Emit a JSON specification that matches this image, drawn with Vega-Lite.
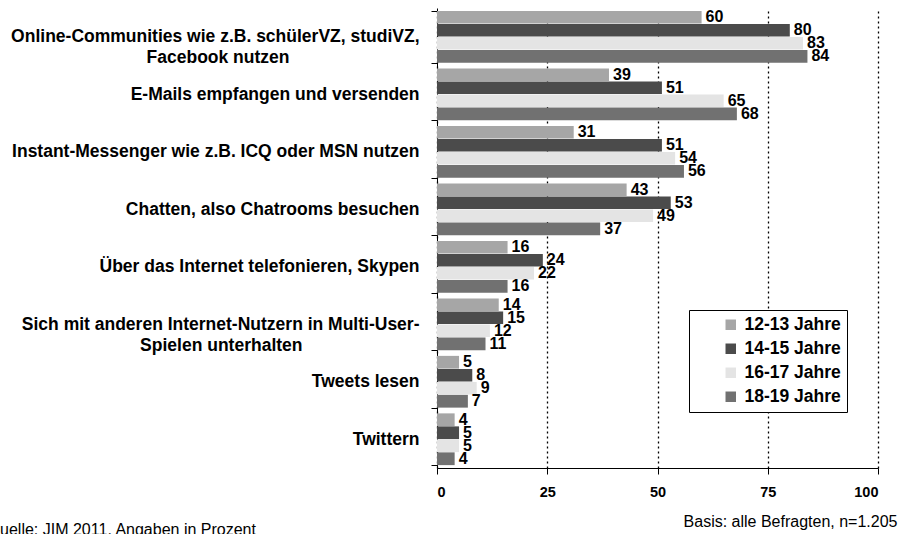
{
  "$schema": "https://vega.github.io/schema/vega-lite/v6.json",
  "width": 441,
  "height": 460,
  "autosize": "none",
  "padding": {"left": 437, "top": 8, "right": 22, "bottom": 66},
  "background": "white",
  "title": {
    "text": "Quelle: JIM 2011, Angaben in Prozent",
    "orient": "bottom",
    "anchor": "start",
    "frame": "bounds",
    "font": "Liberation Sans",
    "fontSize": 16,
    "fontWeight": "normal",
    "color": "black",
    "offset": -7,
    "dx": -23
  },
  "data": {
    "values": [
      {"cat": "Online-Communities wie z.B. schülerVZ, studiVZ,|Facebook nutzen", "age": "12-13 Jahre", "v": 60},
      {"cat": "Online-Communities wie z.B. schülerVZ, studiVZ,|Facebook nutzen", "age": "14-15 Jahre", "v": 80},
      {"cat": "Online-Communities wie z.B. schülerVZ, studiVZ,|Facebook nutzen", "age": "16-17 Jahre", "v": 83},
      {"cat": "Online-Communities wie z.B. schülerVZ, studiVZ,|Facebook nutzen", "age": "18-19 Jahre", "v": 84},
      {"cat": "E-Mails empfangen und versenden", "age": "12-13 Jahre", "v": 39},
      {"cat": "E-Mails empfangen und versenden", "age": "14-15 Jahre", "v": 51},
      {"cat": "E-Mails empfangen und versenden", "age": "16-17 Jahre", "v": 65},
      {"cat": "E-Mails empfangen und versenden", "age": "18-19 Jahre", "v": 68},
      {"cat": "Instant-Messenger wie z.B. ICQ oder MSN nutzen", "age": "12-13 Jahre", "v": 31},
      {"cat": "Instant-Messenger wie z.B. ICQ oder MSN nutzen", "age": "14-15 Jahre", "v": 51},
      {"cat": "Instant-Messenger wie z.B. ICQ oder MSN nutzen", "age": "16-17 Jahre", "v": 54},
      {"cat": "Instant-Messenger wie z.B. ICQ oder MSN nutzen", "age": "18-19 Jahre", "v": 56},
      {"cat": "Chatten, also Chatrooms besuchen", "age": "12-13 Jahre", "v": 43},
      {"cat": "Chatten, also Chatrooms besuchen", "age": "14-15 Jahre", "v": 53},
      {"cat": "Chatten, also Chatrooms besuchen", "age": "16-17 Jahre", "v": 49},
      {"cat": "Chatten, also Chatrooms besuchen", "age": "18-19 Jahre", "v": 37},
      {"cat": "Über das Internet telefonieren, Skypen", "age": "12-13 Jahre", "v": 16},
      {"cat": "Über das Internet telefonieren, Skypen", "age": "14-15 Jahre", "v": 24},
      {"cat": "Über das Internet telefonieren, Skypen", "age": "16-17 Jahre", "v": 22},
      {"cat": "Über das Internet telefonieren, Skypen", "age": "18-19 Jahre", "v": 16},
      {"cat": "Sich mit anderen Internet-Nutzern in Multi-User-|Spielen unterhalten", "age": "12-13 Jahre", "v": 14},
      {"cat": "Sich mit anderen Internet-Nutzern in Multi-User-|Spielen unterhalten", "age": "14-15 Jahre", "v": 15},
      {"cat": "Sich mit anderen Internet-Nutzern in Multi-User-|Spielen unterhalten", "age": "16-17 Jahre", "v": 12},
      {"cat": "Sich mit anderen Internet-Nutzern in Multi-User-|Spielen unterhalten", "age": "18-19 Jahre", "v": 11},
      {"cat": "Tweets lesen", "age": "12-13 Jahre", "v": 5},
      {"cat": "Tweets lesen", "age": "14-15 Jahre", "v": 8},
      {"cat": "Tweets lesen", "age": "16-17 Jahre", "v": 9},
      {"cat": "Tweets lesen", "age": "18-19 Jahre", "v": 7},
      {"cat": "Twittern", "age": "12-13 Jahre", "v": 4},
      {"cat": "Twittern", "age": "14-15 Jahre", "v": 5},
      {"cat": "Twittern", "age": "16-17 Jahre", "v": 5},
      {"cat": "Twittern", "age": "18-19 Jahre", "v": 4}
    ]
  },
  "encoding": {
    "y": {
      "field": "cat",
      "type": "nominal",
      "sort": null,
      "scale": {"paddingInner": 0.1, "paddingOuter": 0.05},
      "axis": {
        "title": null,
        "domainColor": "black",
        "tickBand": "extent",
        "tickSize": 6,
        "tickColor": "black",
        "labelFont": "Liberation Sans",
        "labelFontSize": 17.5,
        "labelFontWeight": "bold",
        "labelColor": "black",
        "labelLimit": 600,
        "labelLineHeight": 21,
        "labelPadding": 12,
        "labelExpr": "indexof(datum.label, '|') < 0 ? datum.label : [split(datum.label, '|')[0], split(datum.label, '|')[1] + (indexof(datum.label, 'Online') >= 0 ? '\u2800\u2800\u2800\u2800\u2800\u2800\u2800\u2800\u2800\u2800' : '\u2800\u2800\u2800\u2800\u2800\u2800\u2800\u2800\u2800')]"
      }
    },
    "yOffset": {
      "field": "age",
      "type": "nominal",
      "scale": {"paddingInner": 0.02}
    },
    "x": {
      "field": "v",
      "type": "quantitative",
      "scale": {"domain": [0, 100]},
      "axis": {
        "values": [0, 25, 50, 75, 100],
        "title": "Basis: alle Befragten, n=1.205",
        "titleX": 460,
        "titleY": 53,
        "titleAlign": "right",
        "titleBaseline": "middle",
        "titleFont": "Liberation Sans",
        "titleFontSize": 16,
        "titleFontWeight": "normal",
        "titleColor": "black",
        "domainColor": "black",
        "tickColor": "black",
        "tickSize": 6,
        "labelFont": "Liberation Sans",
        "labelFontSize": 14.5,
        "labelFontWeight": "bold",
        "labelColor": "black",
        "labelPadding": 11,
        "grid": true,
        "gridColor": "black",
        "gridDash": [2, 3],
        "gridWidth": 1.3
      }
    }
  },
  "layer": [
    {
      "mark": {"type": "bar"},
      "encoding": {
        "color": {
          "field": "age",
          "type": "nominal",
          "scale": {
            "domain": ["12-13 Jahre", "14-15 Jahre", "16-17 Jahre", "18-19 Jahre"],
            "range": ["#a6a6a6", "#4b4b4b", "#e4e4e4", "#717171"]
          },
          "legend": {
            "title": null,
            "orient": "none",
            "legendX": 252,
            "legendY": 302,
            "strokeColor": "black",
            "fillColor": "white",
            "padding": 6,
            "rowPadding": 5,
            "symbolOffset": 27,
            "labelOffset": 5,
            "symbolType": "square",
            "symbolSize": 110,
            "labelFont": "Liberation Sans",
            "labelFontSize": 17.5,
            "labelFontWeight": "bold",
            "labelColor": "black",
            "labelExpr": "datum.label + '\u00a0\u00a0\u00a0\u00a0\u00a0\u00a0'"
          }
        }
      }
    },
    {
      "mark": {
        "type": "text",
        "align": "left",
        "baseline": "middle",
        "dx": 4,
        "font": "Liberation Sans",
        "fontSize": 16,
        "fontWeight": "bold",
        "color": "black"
      },
      "encoding": {"text": {"field": "v", "type": "quantitative"}}
    }
  ],
  "config": {"view": {"stroke": null}}
}
